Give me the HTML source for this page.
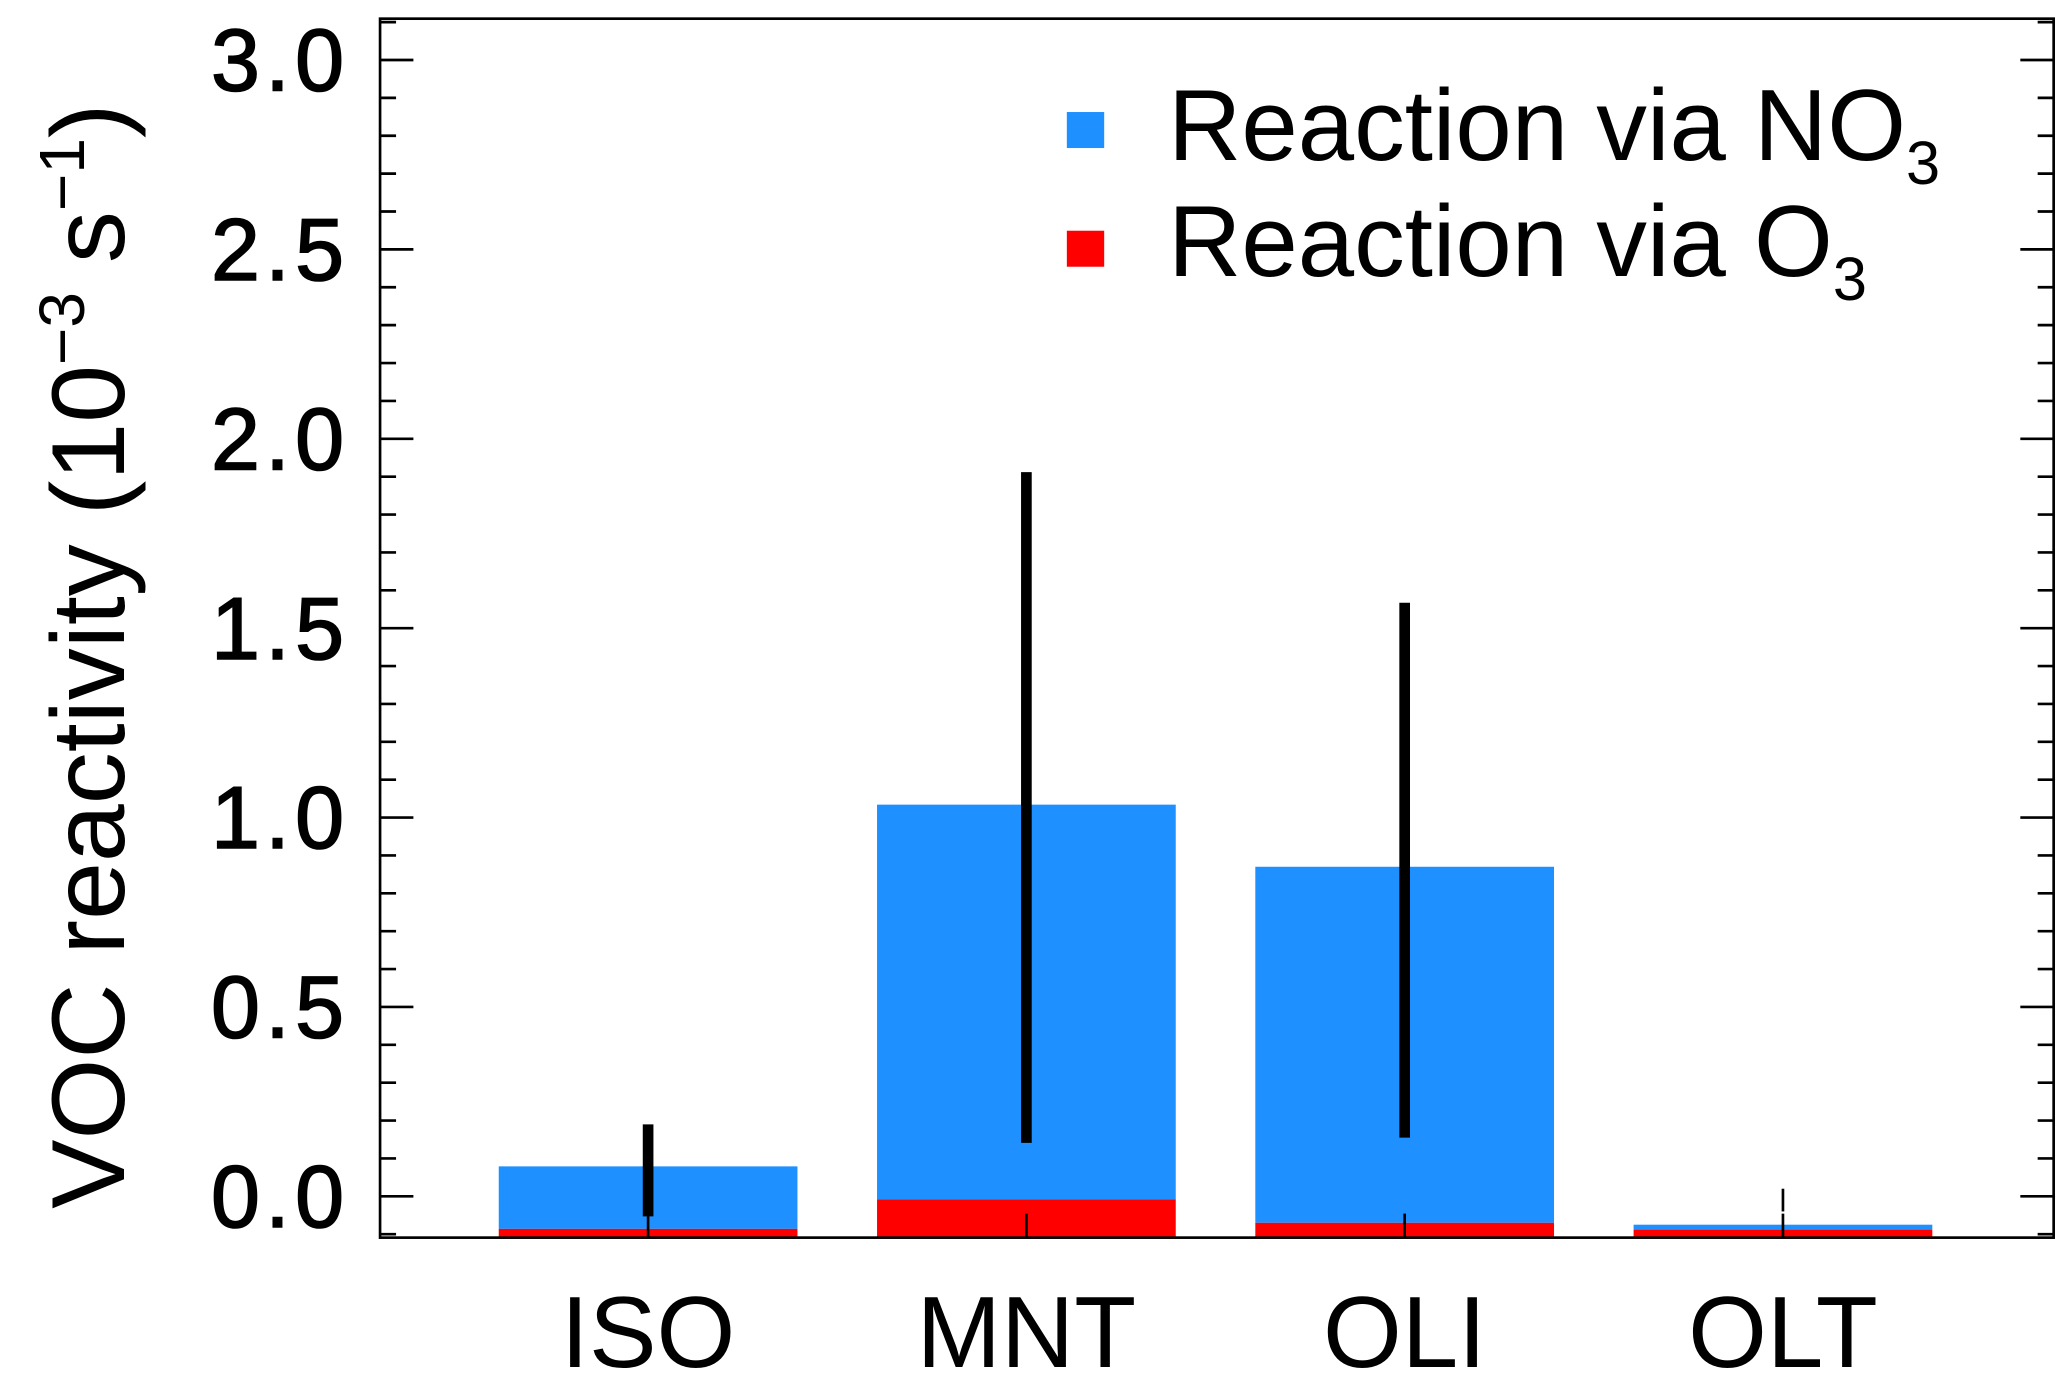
<!DOCTYPE html>
<html><head><meta charset="utf-8"><style>
html,body{margin:0;padding:0;background:#fff}
svg{display:block}
text{font-family:"Liberation Sans",Arial,sans-serif;fill:#000}
</style></head><body>
<svg id="chart" width="2067" height="1375" viewBox="0 0 1550 1031" preserveAspectRatio="none" xmlns="http://www.w3.org/2000/svg">
<g id="bars"></g>
<g id="errs"></g>
<g id="axes"></g>
<g>
<rect x="800" y="84" width="28" height="27" fill="#1e90ff"/>
<text x="876" y="120" font-size="76">Reaction via NO<tspan font-size="46" dy="18">3</tspan></text>
<rect x="800" y="173" width="28" height="27" fill="#ff0000"/>
<text x="876" y="207" font-size="76">Reaction via O<tspan font-size="46" dy="18">3</tspan></text>
</g>
<text transform="translate(93,492) rotate(-90)" text-anchor="middle" font-size="78">VOC reactivity (10<tspan font-size="48" dy="-30">−3</tspan><tspan dy="30"> s</tspan><tspan font-size="48" dy="-30">−1</tspan><tspan dy="30">)</tspan></text>
</svg>
<script>
const categories = ["ISO","MNT","OLI","OLT"];
const no3Values = [0.165, 1.042, 0.94, 0.013];   // NO3 part (stacked above O3)
const o3Values = [0.014, 0.092, 0.03, 0.012];
const errLow = [-0.053, 0.141, 0.155, -0.04];
const errHigh = [0.19, 1.912, 1.567, 0.02];
const yTickLabels = ["0.0","0.5","1.0","1.5","2.0","2.5","3.0"];

const NS="http://www.w3.org/2000/svg";
const L=285,R=1540,T=14,B=928;
const yMin=-0.1;
function y(v){return 897-(v)*284;}
const step=(1337-486)/3;
function xc(i){return 486+i*step;}
const bw=224;
function mk(tag,attrs,parent){const e=document.createElementNS(NS,tag);for(const k in attrs)e.setAttribute(k,attrs[k]);parent.appendChild(e);return e;}
const gb=document.getElementById('bars'),ge=document.getElementById('errs'),ga=document.getElementById('axes');
categories.forEach((c,i)=>{
  const base=B;
  const yo=y(yMin+o3Values[i]);
  const yn=y(yMin+o3Values[i]+no3Values[i]);
  const r1=mk('rect',{x:xc(i)-bw/2,y:yn,width:bw,height:yo-yn,fill:'#1e90ff'},gb);
  
  
  const r2=mk('rect',{x:xc(i)-bw/2,y:yo,width:bw,height:base-yo,fill:'#ff0000'},gb);
  
  
  const sw=Math.abs(errHigh[i]-errLow[i])<0.1?2:8;
  const e=mk('line',{x1:xc(i),x2:xc(i),y1:y(errLow[i]),y2:y(errHigh[i]),stroke:'#000','stroke-width':sw},ge);
  
  
  const t=mk('text',{x:xc(i),y:1025,'font-size':76,'text-anchor':'middle'},ga);
  t.textContent=c;
  
  
  mk('line',{x1:xc(i),x2:xc(i),y1:B,y2:B-18,stroke:'#000','stroke-width':2},ga);
});
const frame=mk('rect',{x:L,y:T,width:R-L,height:B-T,fill:'none',stroke:'#000','stroke-width':2},ga);


for(let k=-1;k<=31;k++){
  const v=k/10, yy=y(v);
  if(yy<T||yy>B)continue;
  const len=(k%5===0)?25:12;
  mk('line',{x1:L,x2:L+len,y1:yy,y2:yy,stroke:'#000','stroke-width':2},ga);
  mk('line',{x1:R,x2:R-len,y1:yy,y2:yy,stroke:'#000','stroke-width':2},ga);
}
yTickLabels.forEach((lab,j)=>{
  const t=mk('text',{x:262,y:y(parseFloat(lab))+23,'font-size':66,'text-anchor':'end','letter-spacing':4,stroke:'#000','stroke-width':1.2},ga);
  t.textContent=lab;
  
  
});
</script>
</body></html>
